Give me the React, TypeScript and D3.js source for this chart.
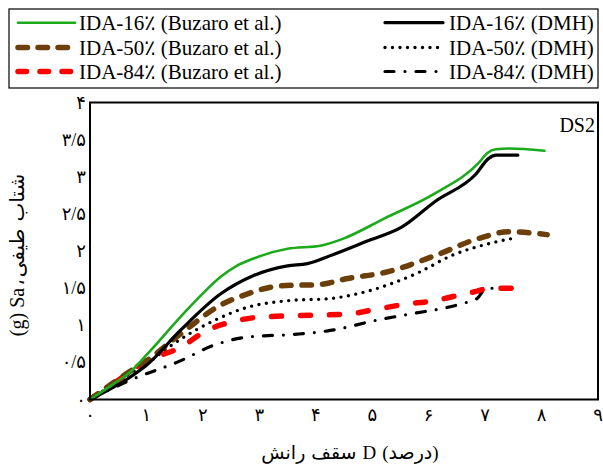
import React, { useLayoutEffect, useRef, useState } from "react";
import * as d3 from "d3";

// Roof drift D (%) and spectral acceleration Sa (g) for each fragility curve
const buzaro16D = [0, 0.4, 0.71, 1.0, 1.6, 2.0, 2.31, 2.6, 2.9, 3.5, 4.08, 4.5, 5.22, 6.12, 6.89, 7.04, 7.19, 7.43, 8.05];
const buzaro16Sa = [0, 0.2, 0.37, 0.6, 1.11, 1.43, 1.65, 1.8, 1.9, 2.03, 2.07, 2.17, 2.44, 2.78, 3.19, 3.32, 3.37, 3.38, 3.35];

const dmh16D = [0, 0.71, 1.0, 1.6, 2.31, 2.9, 3.5, 3.85, 4.3, 4.9, 5.52, 6.12, 6.83, 7.07, 7.19, 7.58];
const dmh16Sa = [0, 0.3, 0.46, 0.93, 1.42, 1.67, 1.8, 1.83, 1.95, 2.13, 2.32, 2.67, 3.03, 3.25, 3.29, 3.29];

const buzaro50D = [0, 0.71, 1.0, 1.6, 2.31, 2.78, 3.37, 4.08, 4.56, 5.22, 6.12, 6.89, 7.43, 8.1];
const buzaro50Sa = [0, 0.38, 0.52, 0.88, 1.27, 1.42, 1.53, 1.55, 1.63, 1.71, 1.94, 2.17, 2.26, 2.22];

const dmh50D = [0, 0.71, 1.0, 1.48, 2.19, 2.78, 3.49, 4.26, 4.97, 5.82, 6.41, 7.07, 7.49];
const dmh50Sa = [0, 0.35, 0.48, 0.75, 1.06, 1.24, 1.33, 1.36, 1.47, 1.71, 1.94, 2.1, 2.17];

const buzaro84D = [0, 0.41, 1.0, 1.6, 2.07, 2.48, 3.02, 3.67, 4.56, 4.97, 5.56, 6.09, 6.62, 6.86, 7.01, 7.2, 7.75];
const buzaro84Sa = [0, 0.21, 0.52, 0.7, 0.93, 1.04, 1.11, 1.13, 1.15, 1.2, 1.28, 1.33, 1.42, 1.46, 1.49, 1.5, 1.5];

const dmh84D = [0, 0.71, 1.6, 2.19, 2.78, 3.67, 4.26, 5.09, 5.74, 6.33, 6.68, 6.86, 7.01, 7.19, 7.55];
const dmh84Sa = [0, 0.26, 0.52, 0.73, 0.84, 0.88, 0.93, 1.07, 1.16, 1.24, 1.31, 1.36, 1.49, 1.5, 1.5];

const xTickLabels = ["۰", "۱", "۲", "۳", "۴", "۵", "۶", "۷", "۸", "۹"];
const yTickLabels = ["۰", "۰/۵", "۱", "۱/۵", "۲", "۲/۵", "۳", "۳/۵", "۴"];

// axis titles, word by word in visual order (left→right, bottom→top for the rotated one)
const xTitleWords = ["رانش", "سقف", "D", "(درصد)"];
const xTitleGaps = [6, 6, 6];
const yTitleWords = ["(g)", "Sa", "،", "طیفی", "شتاب"];
const yTitleGaps = [5, 2, 2, 7];

const W = 603;
const H = 468;
const left = 90;
const right = 598;
const top = 102.5;
const bottom = 399.5;

const FONT = "'Liberation Serif', 'Times New Roman', 'DejaVu Sans', serif";

type Series = {
  name: string;
  d: number[];
  sa: number[];
  color: string;
  width: number;
  dash?: string;
  legendDash?: string;
};

const series: Series[] = [
  { name: "dmh84", d: dmh84D, sa: dmh84Sa, color: "#000", width: 3.2, dash: "9 11 0 11", legendDash: "9 11 0 11" },
  { name: "dmh50", d: dmh50D, sa: dmh50Sa, color: "#000", width: 3.4, dash: "0 7.5", legendDash: "0 7.5" },
  { name: "buzaro84", d: buzaro84D, sa: buzaro84Sa, color: "#ff0000", width: 5.5, dash: "10 19", legendDash: "8.5 13.5" },
  { name: "buzaro50", d: buzaro50D, sa: buzaro50Sa, color: "#6b3e0a", width: 5.5, dash: "9.5 11", legendDash: "9.5 10.5" },
  { name: "dmh16", d: dmh16D, sa: dmh16Sa, color: "#000", width: 3.2 },
  { name: "buzaro16", d: buzaro16D, sa: buzaro16Sa, color: "#1aaa1a", width: 2.6 },
];

const legendItems = [
  { label: "IDA-16٪ (Buzaro et al.)", s: "buzaro16", col: 0, row: 0 },
  { label: "IDA-50٪ (Buzaro et al.)", s: "buzaro50", col: 0, row: 1 },
  { label: "IDA-84٪ (Buzaro et al.)", s: "buzaro84", col: 0, row: 2 },
  { label: "IDA-16٪ (DMH)", s: "dmh16", col: 1, row: 0 },
  { label: "IDA-50٪ (DMH)", s: "dmh50", col: 1, row: 1 },
  { label: "IDA-84٪ (DMH)", s: "dmh84", col: 1, row: 2 },
];

// centres of a row of words laid out with the given gaps around a middle point
function layoutWords(widths: number[], gaps: number[], middle: number): number[] {
  const total = widths.reduce((a, b) => a + b, 0) + gaps.reduce((a, b) => a + b, 0);
  let pos = middle - total / 2;
  return widths.map((w, i) => {
    const c = pos + w / 2;
    pos += w + (gaps[i] ?? 0);
    return c;
  });
}

export default function App() {
  const x = d3.scaleLinear().domain([0, 9]).range([left, right]);
  const y = d3.scaleLinear().domain([0, 4]).range([bottom, top]);

  const line = d3
    .line<[number, number]>()
    .x((p) => x(p[0]))
    .y((p) => y(p[1]))
    .curve(d3.curveMonotoneX);

  const byName = new Map(series.map((s) => [s.name, s]));

  const xWordRefs = useRef<(SVGTextElement | null)[]>([]);
  const yWordRefs = useRef<(SVGTextElement | null)[]>([]);
  const [xWidths, setXWidths] = useState<number[]>(xTitleWords.map(() => 30));
  const [yWidths, setYWidths] = useState<number[]>(yTitleWords.map(() => 25));

  useLayoutEffect(() => {
    setXWidths(xWordRefs.current.map((el) => (el ? el.getComputedTextLength() : 30)));
    setYWidths(yWordRefs.current.map((el) => (el ? el.getComputedTextLength() : 25)));
  }, []);

  const xCenters = layoutWords(xWidths, xTitleGaps, 350);
  // rotated title runs upward, so local x = -screen y
  const yCenters = layoutWords(yWidths, yTitleGaps, -255);

  const colLine = [
    [18, 75],
    [385, 443],
  ];
  const colText = [79, 449];
  const rowY = [22.7, 47.5, 71.5];

  return (
    <div style={{ position: "absolute", left: 0, top: 0 }}>
      <svg width={W} height={H} style={{ display: "block", background: "#fff" }} fontFamily={FONT}>
        <rect x={0} y={0} width={W} height={H} fill="#fff" />

        {/* legend */}
        <rect x={9} y={9} width={589} height={79} fill="#fff" stroke="#000" strokeWidth={1.2} />
        {legendItems.map((it) => {
          const s = byName.get(it.s)!;
          const [x0, x1] = colLine[it.col];
          const yy = rowY[it.row];
          return (
            <g key={it.label}>
              <line
                x1={x0}
                x2={x1}
                y1={yy}
                y2={yy}
                stroke={s.color}
                strokeWidth={s.width}
                strokeDasharray={s.legendDash}
                strokeLinecap="round"
              />
              <text x={colText[it.col]} y={yy + 7} fontSize={21} fill="#000">
                {it.label}
              </text>
            </g>
          );
        })}

        {/* curves */}
        {series.map((s) => (
          <path
            key={s.name}
            d={line(s.d.map((v, i) => [v, s.sa[i]] as [number, number])) || ""}
            fill="none"
            stroke={s.color}
            strokeWidth={s.width}
            strokeDasharray={s.dash}
            strokeLinecap="round"
            strokeLinejoin="round"
          />
        ))}

        {/* plot frame */}
        <rect x={left} y={top} width={right - left} height={bottom - top} fill="none" stroke="#000" strokeWidth={2} />

        {/* x tick labels */}
        {xTickLabels.map((t, i) => (
          <text key={"x" + i} x={x(i)} y={421} fontSize={18} textAnchor="middle" fill="#000">
            {t}
          </text>
        ))}
        {/* y tick labels */}
        {yTickLabels.map((t, i) => (
          <text key={"y" + i} x={86} y={y(i * 0.5) + 6} fontSize={18} textAnchor="end" fill="#000">
            {t}
          </text>
        ))}

        <text x={595} y={132} fontSize={20} textAnchor="end" fill="#000">
          DS2
        </text>

        {/* axis titles */}
        {xTitleWords.map((w, i) => (
          <text
            key={"xt" + i}
            ref={(el) => {
              xWordRefs.current[i] = el;
            }}
            x={xCenters[i]}
            y={459}
            fontSize={19}
            textAnchor="middle"
            fill="#000"
          >
            {w}
          </text>
        ))}
        <g transform="translate(24,0) rotate(-90)">
          {yTitleWords.map((w, i) => (
            <text
              key={"yt" + i}
              ref={(el) => {
                yWordRefs.current[i] = el;
              }}
              x={yCenters[i]}
              y={0}
              fontSize={20}
              textAnchor="middle"
              fill="#000"
            >
              {w}
            </text>
          ))}
        </g>
      </svg>
    </div>
  );
}
